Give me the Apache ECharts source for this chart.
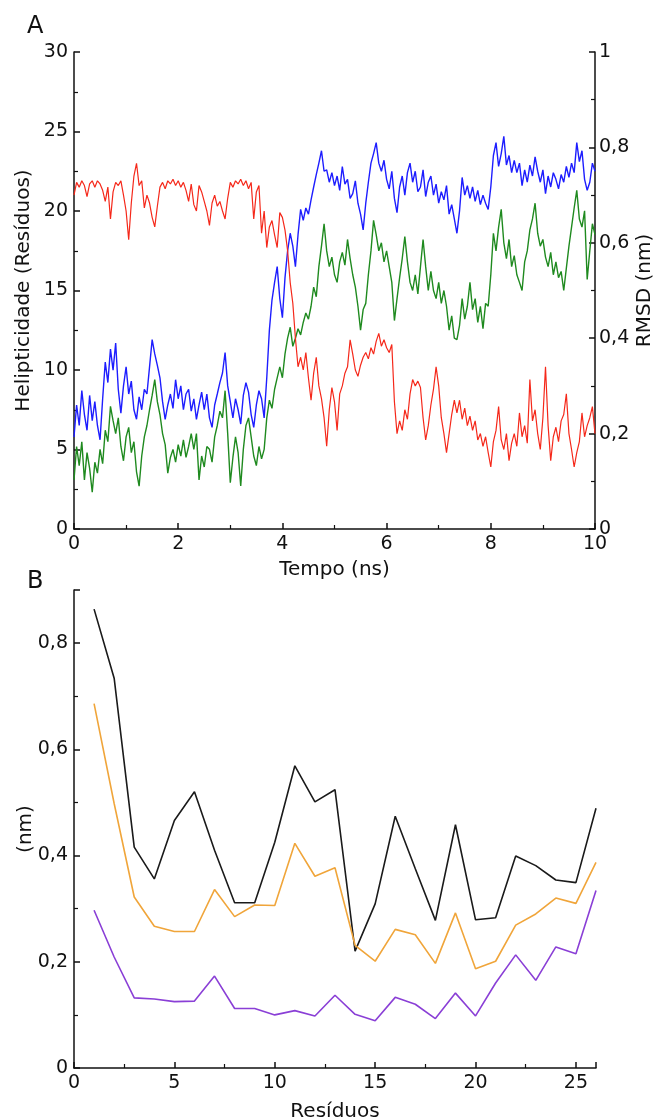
<!DOCTYPE html>
<html>
<head>
<meta charset="utf-8">
<title>Helipticidade e RMSD</title>
<script src="https://cdn.jsdelivr.net/npm/echarts@6/dist/echarts.min.js"></script>
<style>
  html, body { margin: 0; padding: 0; background: #fff; }
  #chart { width: 663px; height: 1119px; }
</style>
</head>
<body>
<div id="chart"></div>
<script>
// painel A: uma amostra a cada 0,05 ns, de 0 a 10 ns
const timeStep = 0.05
// helipticidade (resíduos), eixo da esquerda
const helicity = [
  21.0, 21.8, 21.5, 21.9, 21.6, 20.9, 21.7, 21.9, 21.5, 21.9, 21.7, 21.3, 20.6, 21.5, 19.5, 21.2, 21.8, 21.6, 21.9, 21.0,
  20.0, 18.2, 20.5, 22.2, 23.0, 21.6, 21.9, 20.2, 21.0, 20.5, 19.6, 19.0, 20.3, 21.5, 21.8, 21.4, 21.9, 21.7, 22.0, 21.6,
  21.9, 21.5, 21.8, 21.3, 20.6, 21.7, 20.4, 20.0, 21.6, 21.2, 20.6, 20.0, 19.1, 20.5, 21.0, 20.3, 20.6, 20.0, 19.5, 20.8,
  21.8, 21.5, 21.9, 21.7, 22.0, 21.6, 21.9, 21.4, 21.8, 19.5, 21.2, 21.6, 18.6, 20.0, 17.7, 19.0, 19.4, 18.5, 17.7, 19.9,
  19.6, 18.8, 17.5, 15.5, 14.2, 12.0, 10.2, 10.8, 10.0, 11.1, 9.5, 8.1, 9.8, 10.8, 9.0, 8.2, 7.0, 5.2, 7.5, 8.9,
  8.0, 6.2, 8.5, 9.0, 9.8, 10.2, 11.9, 11.0, 10.0, 9.6, 10.3, 10.8, 11.1, 10.7, 11.4, 11.0, 11.8, 12.3, 11.5, 11.9,
  11.4, 11.1, 11.6, 8.0, 6.0, 6.8, 6.2, 7.5, 6.9, 8.5, 9.4, 9.0, 9.3, 8.9, 7.0, 5.6, 6.5, 7.8, 8.8, 10.2,
  9.0, 7.0, 6.0, 4.8, 6.0, 7.2, 8.1, 7.3, 8.1, 6.9, 7.6, 6.5, 7.1, 6.2, 6.8, 5.6, 6.0, 5.2, 5.8, 4.8,
  3.9, 5.5, 6.2, 7.7, 5.6, 5.0, 6.0, 4.3, 5.4, 6.0, 5.2, 7.3, 5.8, 6.5, 5.4, 9.4, 6.8, 7.5, 6.0, 5.0,
  7.0, 10.2, 6.5, 4.3, 5.8, 6.4, 5.5, 6.8, 7.2, 8.5, 6.0, 5.0, 3.9, 4.8, 5.5, 7.3, 5.8, 6.5, 7.0, 7.7, 6.0
]
// RMSD (nm), eixo da direita
const rmsdBlue = [
  0.193, 0.260, 0.217, 0.290, 0.240, 0.207, 0.280, 0.227, 0.267, 0.217, 0.187, 0.273, 0.350, 0.307, 0.377, 0.333, 0.390, 0.293, 0.243, 0.300,
  0.340, 0.283, 0.310, 0.250, 0.230, 0.277, 0.250, 0.293, 0.283, 0.340, 0.397, 0.367, 0.343, 0.317, 0.267, 0.230, 0.260, 0.283, 0.253, 0.313,
  0.273, 0.300, 0.250, 0.283, 0.293, 0.247, 0.273, 0.230, 0.260, 0.287, 0.250, 0.283, 0.233, 0.213, 0.260, 0.283, 0.307, 0.327, 0.370, 0.300,
  0.267, 0.233, 0.273, 0.250, 0.220, 0.280, 0.307, 0.287, 0.240, 0.213, 0.260, 0.290, 0.273, 0.233, 0.317, 0.417, 0.480, 0.517, 0.550, 0.483,
  0.443, 0.527, 0.583, 0.620, 0.593, 0.550, 0.617, 0.670, 0.647, 0.673, 0.660, 0.690, 0.717, 0.743, 0.767, 0.793, 0.750, 0.753, 0.727, 0.747,
  0.720, 0.740, 0.710, 0.760, 0.723, 0.733, 0.693, 0.703, 0.730, 0.683, 0.660, 0.627, 0.683, 0.727, 0.767, 0.787, 0.810, 0.767, 0.750, 0.773,
  0.733, 0.713, 0.750, 0.693, 0.663, 0.717, 0.740, 0.700, 0.747, 0.767, 0.727, 0.750, 0.707, 0.717, 0.753, 0.697, 0.727, 0.740, 0.700, 0.723,
  0.683, 0.707, 0.690, 0.720, 0.660, 0.680, 0.650, 0.620, 0.667, 0.737, 0.700, 0.720, 0.693, 0.717, 0.687, 0.710, 0.680, 0.700, 0.683, 0.670,
  0.717, 0.783, 0.810, 0.760, 0.787, 0.823, 0.763, 0.783, 0.747, 0.773, 0.747, 0.767, 0.720, 0.753, 0.727, 0.763, 0.740, 0.780, 0.750, 0.727,
  0.753, 0.703, 0.740, 0.717, 0.747, 0.733, 0.713, 0.743, 0.727, 0.760, 0.737, 0.767, 0.747, 0.810, 0.770, 0.793, 0.733, 0.710, 0.727, 0.767, 0.750
]
const rmsdGreen = [
  0.103, 0.173, 0.133, 0.183, 0.103, 0.160, 0.127, 0.077, 0.140, 0.117, 0.167, 0.137, 0.207, 0.183, 0.257, 0.227, 0.200, 0.233, 0.173, 0.143,
  0.193, 0.213, 0.160, 0.183, 0.120, 0.090, 0.153, 0.193, 0.217, 0.250, 0.280, 0.313, 0.267, 0.240, 0.200, 0.177, 0.117, 0.150, 0.167, 0.140,
  0.177, 0.153, 0.187, 0.150, 0.173, 0.200, 0.167, 0.200, 0.103, 0.153, 0.130, 0.173, 0.167, 0.140, 0.193, 0.217, 0.247, 0.233, 0.290, 0.200,
  0.097, 0.150, 0.193, 0.160, 0.090, 0.167, 0.217, 0.233, 0.193, 0.153, 0.133, 0.173, 0.147, 0.167, 0.233, 0.270, 0.253, 0.293, 0.317, 0.340,
  0.317, 0.367, 0.400, 0.423, 0.383, 0.400, 0.420, 0.407, 0.433, 0.453, 0.440, 0.467, 0.507, 0.487, 0.550, 0.593, 0.640, 0.583, 0.550, 0.570,
  0.533, 0.517, 0.560, 0.580, 0.553, 0.607, 0.567, 0.533, 0.507, 0.467, 0.417, 0.460, 0.473, 0.533, 0.583, 0.647, 0.617, 0.583, 0.600, 0.560,
  0.583, 0.550, 0.517, 0.437, 0.483, 0.527, 0.567, 0.613, 0.560, 0.517, 0.500, 0.533, 0.493, 0.550, 0.607, 0.550, 0.500, 0.540, 0.500, 0.483,
  0.517, 0.473, 0.500, 0.467, 0.417, 0.447, 0.400, 0.397, 0.427, 0.483, 0.440, 0.467, 0.517, 0.460, 0.483, 0.433, 0.467, 0.420, 0.473, 0.467,
  0.533, 0.620, 0.583, 0.633, 0.670, 0.600, 0.567, 0.607, 0.550, 0.573, 0.533, 0.517, 0.500, 0.560, 0.583, 0.627, 0.650, 0.683, 0.620, 0.593,
  0.607, 0.570, 0.550, 0.580, 0.533, 0.560, 0.527, 0.540, 0.500, 0.547, 0.593, 0.633, 0.673, 0.710, 0.650, 0.633, 0.667, 0.523, 0.583, 0.640, 0.617
]

// painel B: valores por resíduo (nm)
const residues = [1, 2, 3, 4, 5, 6, 7, 8, 9, 10, 11, 12, 13, 14, 15, 16, 17, 18, 19, 20, 21, 22, 23, 24, 25, 26]
const blackLine = [0.864, 0.734, 0.416, 0.356, 0.466, 0.520, 0.410, 0.311, 0.311, 0.425, 0.569, 0.501, 0.524, 0.220, 0.309, 0.474, 0.375, 0.278, 0.458, 0.279, 0.283, 0.399, 0.381, 0.354, 0.349, 0.489]
const orangeLine = [0.686, 0.498, 0.322, 0.267, 0.257, 0.257, 0.336, 0.285, 0.307, 0.306, 0.423, 0.361, 0.377, 0.231, 0.201, 0.261, 0.251, 0.197, 0.292, 0.187, 0.201, 0.269, 0.290, 0.320, 0.310, 0.387]
const purpleLine = [0.297, 0.209, 0.132, 0.130, 0.125, 0.126, 0.173, 0.112, 0.112, 0.100, 0.108, 0.098, 0.137, 0.101, 0.089, 0.133, 0.120, 0.093, 0.141, 0.098, 0.160, 0.213, 0.165, 0.228, 0.215, 0.334]

const chart = echarts.init(document.getElementById('chart'))
const font = 'DejaVu Sans'
const ink = '#111'

// pares [tempo, valor]
const withTime = arr => arr.map((v, i) => [+(i * timeStep).toFixed(2), v])
const withResidue = arr => arr.map((v, i) => [residues[i], v])
const comma = v => String(+v.toFixed(2)).replace('.', ',')

function axisBase (extra) {
  return Object.assign({
    type: 'value',
    splitLine: { show: false },
    axisLine: { show: true, lineStyle: { color: ink, width: 1.5 } },
    axisTick: { show: true, inside: true, length: 6, lineStyle: { color: ink, width: 1.5 } },
    minorTick: { show: true, splitNumber: 2, length: 4, lineStyle: { color: ink, width: 1.2 } },
    axisLabel: { color: ink, fontSize: 19, fontFamily: font, margin: 6 },
    nameLocation: 'middle',
    nameMoveOverlap: false,
    nameTextStyle: { color: ink, fontSize: 20, fontFamily: font }
  }, extra)
}

const option = {
  animation: false,
  backgroundColor: '#fff',
  textStyle: { fontFamily: font },
  graphic: [
    { type: 'text', left: 27, top: 15, style: { text: 'A', fontSize: 24, fontFamily: font, fill: ink } },
    { type: 'text', left: 27, top: 570, style: { text: 'B', fontSize: 24, fontFamily: font, fill: ink } }
  ],
  grid: [
    { left: 74, right: 68, top: 52, height: 477, outerBoundsMode: 'none' },
    { left: 74, right: 67, top: 590, height: 478, outerBoundsMode: 'none' }
  ],
  xAxis: [
    axisBase({ gridIndex: 0, min: 0, max: 10, interval: 2, name: 'Tempo (ns)', nameGap: 31 }),
    axisBase({
      gridIndex: 1, min: 0, max: 26, interval: 5, name: 'Resíduos', nameGap: 34,
      axisLabel: { color: ink, fontSize: 19, fontFamily: font, margin: 6, showMaxLabel: false }
    })
  ],
  yAxis: [
    axisBase({ gridIndex: 0, min: 0, max: 30, interval: 5, name: 'Helipticidade (Resíduos)', nameGap: 40, nameRotate: 90 }),
    axisBase({
      gridIndex: 0, position: 'right', min: 0, max: 1, interval: 0.2, name: 'RMSD (nm)', nameGap: 40, nameRotate: 90,
      axisLabel: { color: ink, fontSize: 19, fontFamily: font, margin: 4, formatter: comma }
    }),
    axisBase({
      gridIndex: 1, min: 0, max: 0.9, interval: 0.2, name: '(nm)', nameGap: 38, nameRotate: 90,
      axisLabel: { color: ink, fontSize: 19, fontFamily: font, margin: 6, formatter: comma, showMaxLabel: false }
    })
  ],
  series: [
    { type: 'line', name: 'RMSD 1', xAxisIndex: 0, yAxisIndex: 1, data: withTime(rmsdBlue), showSymbol: false, symbol: 'none', lineStyle: { color: '#1d1dff', width: 1.4 } },
    { type: 'line', name: 'RMSD 2', xAxisIndex: 0, yAxisIndex: 1, data: withTime(rmsdGreen), showSymbol: false, symbol: 'none', lineStyle: { color: '#1f8a1f', width: 1.4 } },
    { type: 'line', name: 'Helipticidade', xAxisIndex: 0, yAxisIndex: 0, data: withTime(helicity), showSymbol: false, symbol: 'none', lineStyle: { color: '#f5281a', width: 1.2 } },
    { type: 'line', name: 'preto', xAxisIndex: 1, yAxisIndex: 2, data: withResidue(blackLine), showSymbol: false, symbol: 'none', lineStyle: { color: '#1a1a1a', width: 1.6 } },
    { type: 'line', name: 'laranja', xAxisIndex: 1, yAxisIndex: 2, data: withResidue(orangeLine), showSymbol: false, symbol: 'none', lineStyle: { color: '#f0a53a', width: 1.6 } },
    { type: 'line', name: 'roxo', xAxisIndex: 1, yAxisIndex: 2, data: withResidue(purpleLine), showSymbol: false, symbol: 'none', lineStyle: { color: '#8a3fd6', width: 1.6 } }
  ]
}
chart.setOption(option)
</script>
</body>
</html>
